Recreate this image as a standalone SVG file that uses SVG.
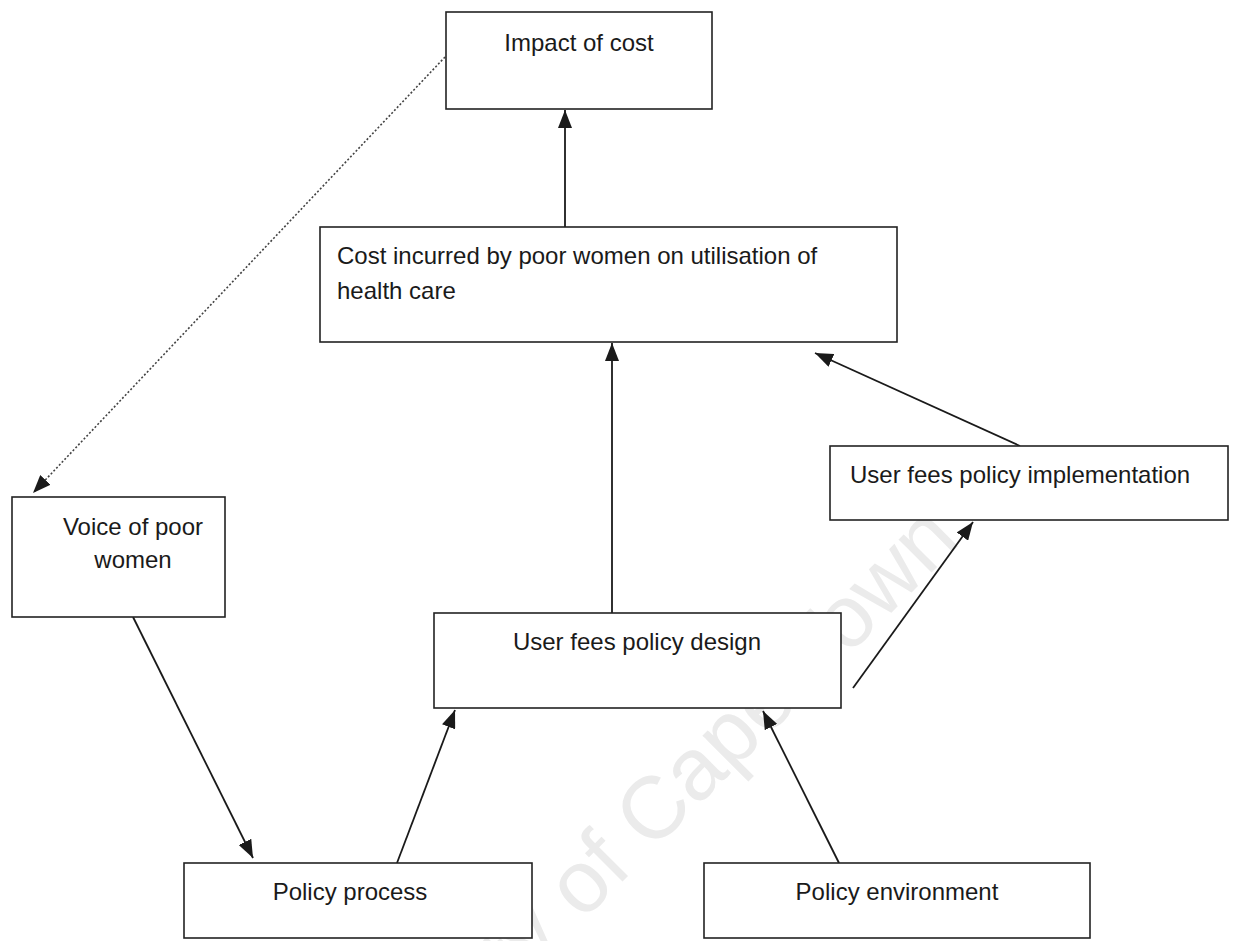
<svg xmlns="http://www.w3.org/2000/svg" width="1238" height="941" viewBox="0 0 1238 941">
  <style>
    .box { fill: #ffffff; stroke: #222222; stroke-width: 1.6; }
    .lbl { font-family: "Liberation Sans", Arial, sans-serif; font-size: 24px; fill: #1a1a1a; }
    .mid { text-anchor: middle; }
    .conn { stroke: #1a1a1a; stroke-width: 1.8; fill: none; marker-end: url(#arrow); }
    .dot { stroke: #444444; stroke-width: 1.6; stroke-dasharray: 2 2; fill: none; marker-end: url(#arrow); }
    .wm { font-family: "Liberation Sans", Arial, sans-serif; font-size: 88px; fill: #ebebeb; }
  </style>
  <defs>
    <marker id="arrow" markerUnits="userSpaceOnUse" markerWidth="18" markerHeight="14" viewBox="0 0 18 14" refX="18" refY="7" orient="auto">
      <path d="M0,0 L18,7 L0,14 z" fill="#1a1a1a"/>
    </marker>
  </defs>
  <rect width="1238" height="941" fill="#ffffff"/>
  <text class="wm" transform="translate(292,1212) rotate(-45)">University of Cape Town</text>

  <g id="connectors">
    <line class="conn" x1="565" y1="227" x2="565" y2="110"/>
    <line class="dot" x1="445" y1="57" x2="33" y2="493"/>
    <line class="conn" x1="612" y1="613" x2="612" y2="343"/>
    <line class="conn" x1="1020" y1="446" x2="815" y2="353"/>
    <line class="conn" x1="853" y1="688" x2="973" y2="522"/>
    <line class="conn" x1="133" y1="617" x2="253" y2="858"/>
    <line class="conn" x1="397" y1="863" x2="455" y2="710"/>
    <line class="conn" x1="839" y1="863" x2="763" y2="711"/>
  </g>

  <g id="impact">
    <rect class="box" x="446" y="12" width="266" height="97"/>
    <text class="lbl mid" x="579" y="51">Impact of cost</text>
  </g>
  <g id="cost">
    <rect class="box" x="320" y="227" width="577" height="115"/>
    <text class="lbl" x="337" y="264">Cost incurred by poor women on utilisation of</text>
    <text class="lbl" x="337" y="299">health care</text>
  </g>
  <g id="implementation">
    <rect class="box" x="830" y="446" width="398" height="74"/>
    <text class="lbl" x="850" y="483">User fees policy implementation</text>
  </g>
  <g id="voice">
    <rect class="box" x="12" y="497" width="213" height="120"/>
    <text class="lbl mid" x="133" y="535">Voice of poor</text>
    <text class="lbl mid" x="133" y="568">women</text>
  </g>
  <g id="design">
    <rect class="box" x="434" y="613" width="407" height="95"/>
    <text class="lbl mid" x="637" y="650">User fees policy design</text>
  </g>
  <g id="process">
    <rect class="box" x="184" y="863" width="348" height="75"/>
    <text class="lbl mid" x="350" y="900">Policy process</text>
  </g>
  <g id="environment">
    <rect class="box" x="704" y="863" width="386" height="75"/>
    <text class="lbl mid" x="897" y="900">Policy environment</text>
  </g>
</svg>
